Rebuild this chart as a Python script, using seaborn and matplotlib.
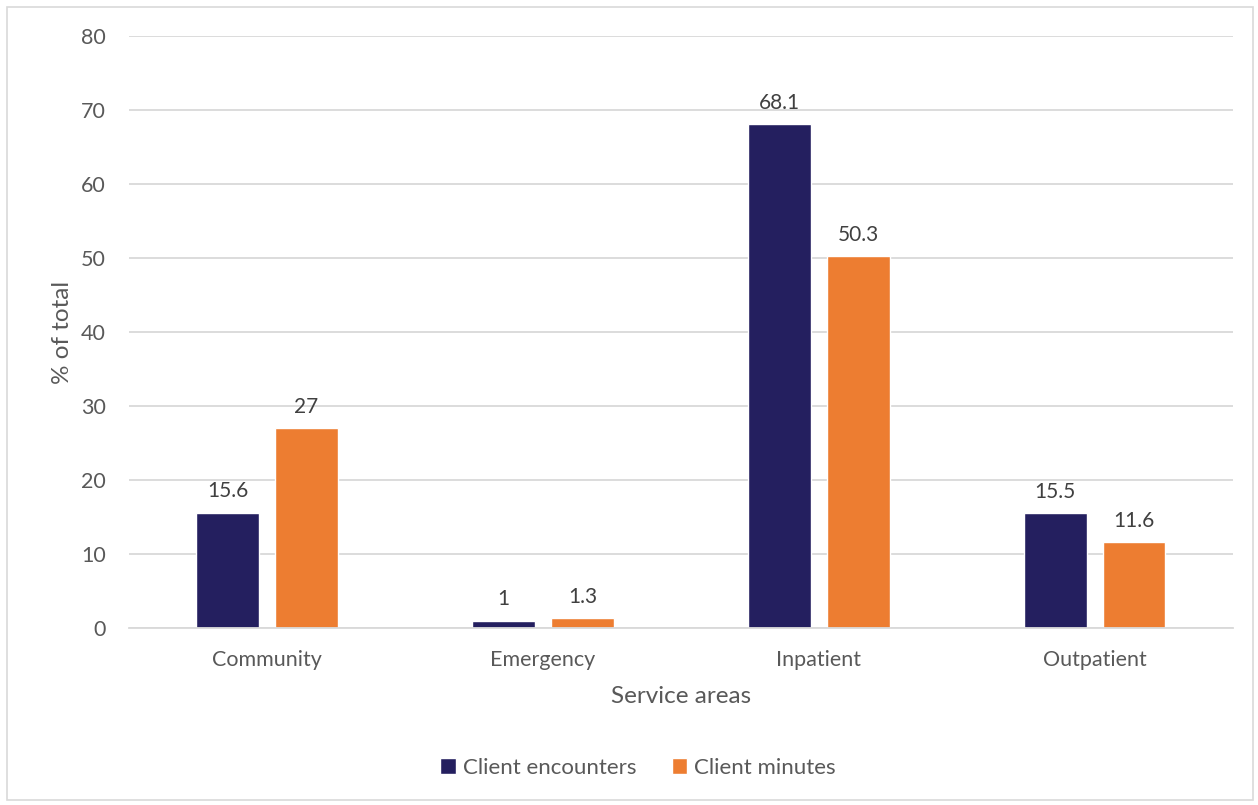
import matplotlib
matplotlib.use("Agg")
import matplotlib.pyplot as plt
from matplotlib.patches import Rectangle
import seaborn as sns
import pandas as pd

service_areas = ["Community", "Emergency", "Inpatient", "Outpatient"]
client_encounters = [15.6, 1, 68.1, 15.5]
client_minutes = [27, 1.3, 50.3, 11.6]
series_names = ["Client encounters", "Client minutes"]
y_ticks = [0, 10, 20, 30, 40, 50, 60, 70, 80]

colors = {"Client encounters": "#241f5f", "Client minutes": "#ed7d31"}
text_color = "#595959"
grid_color = "#d9d9d9"

df = pd.DataFrame({
    "area": service_areas * 2,
    "value": client_encounters + client_minutes,
    "series": [series_names[0]] * 4 + [series_names[1]] * 4,
})

sns.set_theme(style="white")
plt.rcParams["font.family"] = ["Lato", "DejaVu Sans"]

fig = plt.figure(figsize=(12.58, 8.05), dpi=100)
ax = fig.add_axes([0.1025, 0.2199, 0.8775, 0.7354])

sns.barplot(data=df, x="area", y="value", hue="series", palette=colors,
            width=0.572, gap=0.21, ax=ax, legend=True, saturation=1)

ax.set_ylim(0, 80)
ax.set_xlim(-0.5, 3.5)
ax.set_yticks(y_ticks)
ax.yaxis.grid(True, color=grid_color, linewidth=1.3)
ax.set_axisbelow(True)
for s in ["top", "right", "left"]:
    ax.spines[s].set_visible(False)
ax.spines["bottom"].set_color(grid_color)
ax.spines["bottom"].set_linewidth(1.3)
ax.tick_params(axis="both", length=0, labelsize=15.5, colors=text_color)
ax.tick_params(axis="x", pad=15.5)
ax.tick_params(axis="y", pad=16.5)

for cont in ax.containers:
    labels = [f"{v:g}" for v in cont.datavalues]
    ax.bar_label(cont, labels=labels, padding=8, fontsize=15, color="#404040")

ax.set_xlabel("Service areas", fontsize=17.5, color=text_color, labelpad=12)
ax.set_ylabel("% of total", fontsize=17.5, color=text_color, labelpad=6)

handles, lbls = ax.get_legend_handles_labels()
ax.legend(handles, lbls, loc="center", bbox_to_anchor=(0.461, -0.236),
          ncol=2, frameon=False, fontsize=16, labelcolor=text_color,
          handlelength=0.7, handleheight=0.7, handletextpad=0.3, columnspacing=1.6)

fig.patches.append(Rectangle((0.0055, 0.006), 0.9905, 0.9855, transform=fig.transFigure,
                             fill=False, edgecolor="#d9d9d9", linewidth=1.2))

fig.savefig("out.png", dpi=100, facecolor="white")
